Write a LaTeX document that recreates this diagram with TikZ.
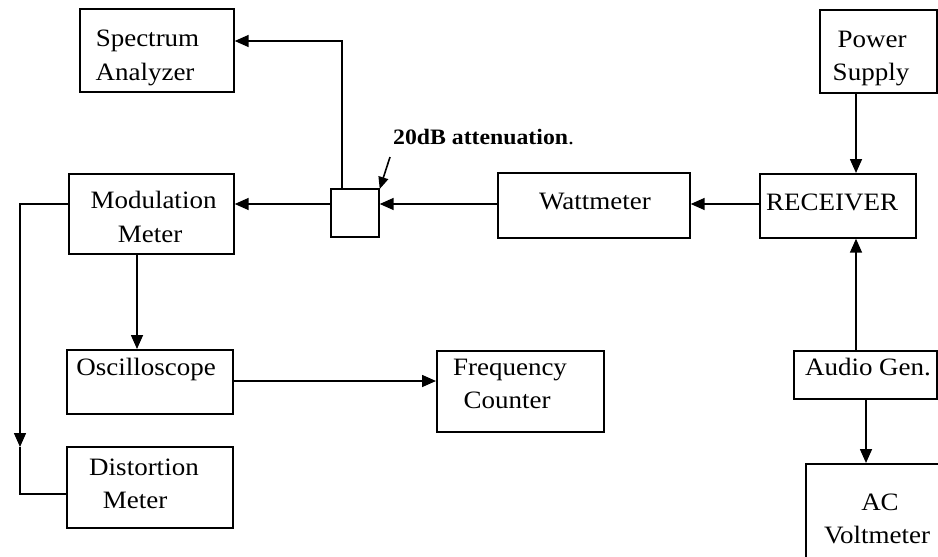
\documentclass[tikz,border=0pt]{standalone}
\usepackage{fontspec}
\setmainfont{Liberation Serif}[FakeStretch=1.08]
\usetikzlibrary{arrows.meta}
\newcommand{\mainsz}{\fontsize{25}{30}\selectfont}
\newcommand{\lblsz}{\fontsize{22}{26}\selectfont\bfseries}
\begin{document}
\begin{tikzpicture}[x=1pt,y=-1pt,
  box/.style={draw, line width=1.7pt, inner sep=0pt, anchor=north west},
  lbl/.style={anchor=base, inner sep=0pt, font=\mainsz},
  arr/.style={line width=1.6pt, -{Triangle[length=14pt,width=12pt]}},
  ln/.style={line width=1.6pt}]
\useasboundingbox (0,0) rectangle (938,557);
\clip (0,0) rectangle (938,557);
% boxes
\node[box, minimum width=154pt, minimum height=83pt] (sa) at (79,8) {};
\node[box, minimum width=165pt, minimum height=80pt] (mm) at (68,173) {};
\node[box, minimum width=48pt, minimum height=48pt] (att) at (330,188) {};
\node[box, minimum width=192pt, minimum height=65pt] (wm) at (497,172) {};
\node[box, minimum width=156pt, minimum height=64pt] (rx) at (759,173) {};
\node[box, minimum width=117pt, minimum height=83pt] (ps) at (819,9) {};
\node[box, minimum width=166pt, minimum height=64pt] (osc) at (66,349) {};
\node[box, minimum width=167pt, minimum height=81pt] (fc) at (436,350) {};
\node[box, minimum width=166pt, minimum height=81pt] (dm) at (66,446) {};
\node[box, minimum width=143pt, minimum height=48pt] (ag) at (793,350) {};
\node[box, minimum width=160pt, minimum height=110pt] (acv) at (805,463) {};
% texts
\node[lbl] at (147.5,46) {Spectrum};
\node[lbl] at (145,80) {Analyzer};
\node[lbl] at (153.5,208) {Modulation};
\node[lbl] at (150,242) {Meter};
\node[anchor=base west, inner sep=0pt, font=\lblsz] (attlbl) at (393,144) {20dB attenuation\textmd{.}};
\node[lbl] at (595,209) {Wattmeter};
\node[lbl] at (832,210) {RECEIVER};
\node[lbl] at (872,47) {Power};
\node[lbl] at (871,80) {Supply};
\node[lbl] at (146,375) {Oscilloscope};
\node[lbl] at (510,375) {Frequency};
\node[lbl] at (507,408) {Counter};
\node[lbl] at (144,475) {Distortion};
\node[lbl] at (135,508) {Meter};
\node[lbl] at (868,375) {Audio Gen.};
\node[lbl] at (880,510) {AC};
\node[lbl] at (877,543) {Voltmeter};
% connectors
\coordinate (sacorner) at ([xshift=12pt]att.north west |- 0,41);
\draw[arr] ([xshift=12pt]att.north west) -- (sacorner) -- (sacorner -| sa.east);
\draw[arr] (att.west |- 0,204) -- (mm.east |- 0,204);
\draw[arr] (wm.west |- 0,204) -- (att.east |- 0,204);
\draw[arr] (rx.west |- 0,204) -- (wm.east |- 0,204);
\draw[arr] ([xshift=37pt]ps.south west) -- ([xshift=37pt]ps.south west |- rx.north);
\draw[arr] ([xshift=63pt]ag.north west) -- ([xshift=63pt]ag.north west |- rx.south);
\draw[arr] ([xshift=73pt]ag.south west) -- ([xshift=73pt]ag.south west |- acv.north);
\draw[arr] ([xshift=69pt]mm.south west) -- ([xshift=69pt]mm.south west |- osc.north);
\draw[arr] (osc.east |- 0,381) -- (fc.west |- 0,381);
\coordinate (lt) at (20,204);
\coordinate (lm) at (20,447);
\coordinate (lb) at (20,494);
\draw[arr] (mm.west |- lt) -- (lt) -- (lm);
\draw[ln] (lm) -- (lb) -- (lb -| dm.west);
\coordinate (pt) at (390,157);
\draw[line width=1.6pt, -{Triangle[length=12pt,width=10pt]}] (pt) -- ([yshift=-1pt]att.north east);
\end{tikzpicture}
\end{document}
